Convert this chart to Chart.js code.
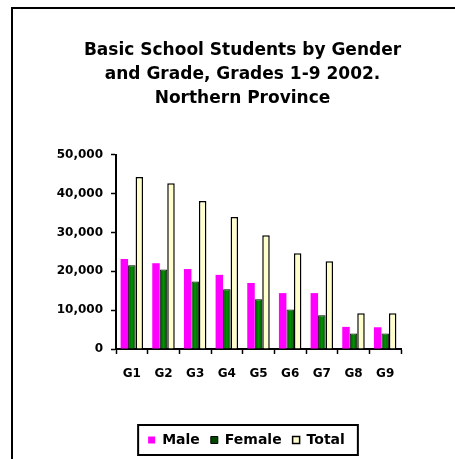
<!DOCTYPE html>
<html>
<head>
<meta charset="utf-8">
<script src="https://cdn.jsdelivr.net/npm/chart.js@4.4.1/dist/chart.umd.min.js"></script>
<style>
  html, body { margin: 0; padding: 0; background: #fff; overflow: hidden; }
  #marco { position: absolute; left: 11px; top: 7px; width: 600px; height: 600px; border: 2px solid #000; }
  #grafico { position: absolute; left: 0; top: 0; }
</style>
</head>
<body>
<div id="marco"></div>
<canvas id="grafico" width="455" height="459"></canvas>
<script>
const grados = ['G1', 'G2', 'G3', 'G4', 'G5', 'G6', 'G7', 'G8', 'G9'];
const hombres = [23200, 22100, 20600, 19100, 17000, 14400, 14400, 5700, 5600];
const mujeres = [21600, 20500, 17400, 15400, 12800, 10200, 8700, 4000, 4000];
const total = [44300, 42700, 38100, 34000, 29300, 24700, 22600, 9200, 9200];
const ticksY = [0, 10000, 20000, 30000, 40000, 50000];
const tituloLineas = [
  'Basic School Students by Gender',
  'and Grade, Grades 1-9 2002.',
  'Northern Province'
];

const fuente = 'DejaVu Sans, Arial, sans-serif';

// verde con degradado, como en el original
function verdeBarra(context) {
  const chart = context.chart;
  const x = chart.scales.x;
  if (context.dataIndex === undefined || !x || !x.width) return '#006a00';
  const centro = x.getPixelForValue(context.dataIndex);
  const ancho = x.width / grados.length * 0.71 / 3;
  const g = chart.ctx.createLinearGradient(centro - ancho / 2, 0, centro + ancho / 2, 0);
  g.addColorStop(0, '#004800');
  g.addColorStop(0.5, '#009400');
  g.addColorStop(1, '#004800');
  return g;
}

// corre el titulo y la leyenda un poco a la derecha
const moverCajas = {
  id: 'moverCajas',
  afterLayout(chart) {
    chart.titleBlock.left += 36;
    chart.titleBlock.right += 36;
    chart.legend.left += 40;
    chart.legend.right += 40;
  }
};

// marco alrededor de la leyenda
const marcoLeyenda = {
  id: 'marcoLeyenda',
  afterDraw(chart) {
    const cajas = chart.legend.legendHitBoxes;
    if (!cajas || !cajas.length) return;
    const primero = cajas[0];
    const ultimo = cajas[cajas.length - 1];
    const medio = primero.top + primero.height / 2;
    const c = chart.ctx;
    c.save();
    c.strokeStyle = '#000';
    c.lineWidth = 2;
    c.strokeRect(primero.left - 10, medio - 15, ultimo.left + ultimo.width + 13 - (primero.left - 10), 30);
    c.restore();
  }
};

new Chart(document.getElementById('grafico').getContext('2d'), {
  type: 'bar',
  data: {
    labels: grados,
    datasets: [
      { label: 'Male', data: hombres, backgroundColor: '#ff00ff', borderWidth: 0 },
      { label: 'Female', data: mujeres, backgroundColor: verdeBarra, borderColor: '#000', borderWidth: 1 },
      { label: 'Total', data: total, backgroundColor: '#ffffcc', borderColor: '#000', borderWidth: 1.5 }
    ]
  },
  options: {
    responsive: false,
    animation: false,
    datasets: { bar: { categoryPercentage: 0.71, barPercentage: 1.0 } },
    layout: { padding: { left: 12, right: 54, top: 0, bottom: 2 } },
    plugins: {
      title: {
        display: true,
        text: tituloLineas,
        color: '#000',
        font: { family: fuente, size: 17, weight: 'bold', lineHeight: 1.43 },
        padding: { top: 38, bottom: 44 }
      },
      legend: {
        position: 'bottom',
        labels: {
          boxWidth: 7,
          boxHeight: 7,
          padding: 11,
          color: '#000',
          font: { family: fuente, size: 14, weight: 'bold' }
        }
      },
      tooltip: { enabled: false }
    },
    scales: {
      x: {
        grid: { offset: true, drawOnChartArea: false, color: '#000', tickLength: 5, tickWidth: 1.5 },
        border: { color: '#000', width: 2 },
        ticks: { color: '#000', padding: 13, maxRotation: 0, font: { family: fuente, size: 12, weight: 'bold' } },
        afterFit: s => { s.height = 73; }
      },
      y: {
        min: 0,
        max: 50000,
        afterBuildTicks: s => { s.ticks = ticksY.map(v => ({ value: v })); },
        grid: { drawOnChartArea: false, color: '#000', tickLength: 5, tickWidth: 1.5 },
        border: { color: '#000', width: 2 },
        ticks: {
          color: '#000',
          padding: 8,
          font: { family: fuente, size: 12, weight: 'bold' },
          callback: v => v.toLocaleString('en-US')
        },
        afterFit: s => { s.width = 104; }
      }
    }
  },
  plugins: [moverCajas, marcoLeyenda]
});
</script>
</body>
</html>
